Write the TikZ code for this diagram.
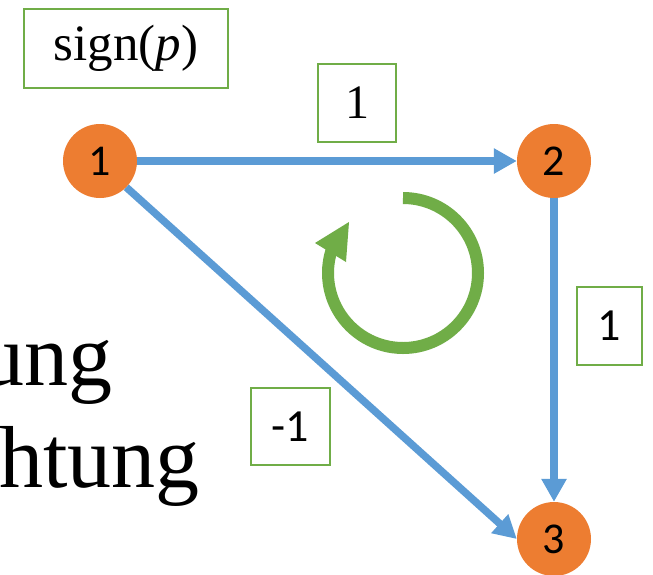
\documentclass[tikz,border=0pt]{standalone}
\usepackage{fontspec}
\setmainfont{Liberation Serif}
\newfontfamily\labelsans{Carlito}
\usetikzlibrary{arrows.meta}

\definecolor{nodeorange}{HTML}{ED7D31}
\definecolor{edgeblue}{HTML}{5B9BD5}
\definecolor{boxgreen}{HTML}{70AD47}

\tikzset{
  vertex/.style={circle, fill=nodeorange, minimum size=74pt, inner sep=0pt,
    font=\labelsans\fontsize{44}{50}\selectfont},
  weightbox/.style={draw=boxgreen, line width=1.4pt, fill=white, inner sep=0pt},
  edgearrow/.style={draw=edgeblue, line width=7.5pt,
    -{Triangle[length=23pt, width=24pt]}},
  bigtext/.style={anchor=base east, inner sep=0pt,
    font=\fontsize{88}{100}\selectfont},
}

\begin{document}
\begin{tikzpicture}[x=1pt, y=-1pt]
  \clip (0,0) rectangle (653,574);
  \fill[white] (0,0) rectangle (653,574);

  % background words of the slide, cut by the left edge
  \node[bigtext] (w1) at (113,385) {ung};
  \node[bigtext] (w2) at (200,487) {htung};

  % vertices
  \node[vertex] (n1) at (100,161) {1};
  \node[vertex] (n2) at (554,161) {2};
  \node[vertex] (n3) at (554,539) {3};

  % directed edges
  \draw[edgearrow] (n1) -- (n2);
  \draw[edgearrow] (n2) -- (n3);
  \draw[edgearrow] (n1.south east) -- (n3.west);

  % edge weights
  \node[weightbox, minimum width=78pt, minimum height=78pt,
        font=\fontsize{48}{54}\selectfont] (wa) at (357,103) {1};
  \node[weightbox, minimum width=65pt, minimum height=78pt,
        font=\labelsans\fontsize{46}{52}\selectfont] (wb) at (609.5,326) {1};
  \node[weightbox, minimum width=79pt, minimum height=77pt,
        font=\labelsans\fontsize{46}{52}\selectfont] (wc) at (290.5,426.5) {-1};

  % orientation label
  \node[weightbox, minimum width=204pt, minimum height=79pt,
        font=\fontsize{51}{58}\selectfont] (sg) at (126,48.5) {sign(\textit{p})};

  % circulation arrow
  \draw[boxgreen, line width=12pt] (403,273) ++(-90:75) arc[start angle=-90, end angle=200, radius=75];
  \fill[boxgreen] (315,243) -- (349,222) -- (346,262) -- cycle;
\end{tikzpicture}
\end{document}
